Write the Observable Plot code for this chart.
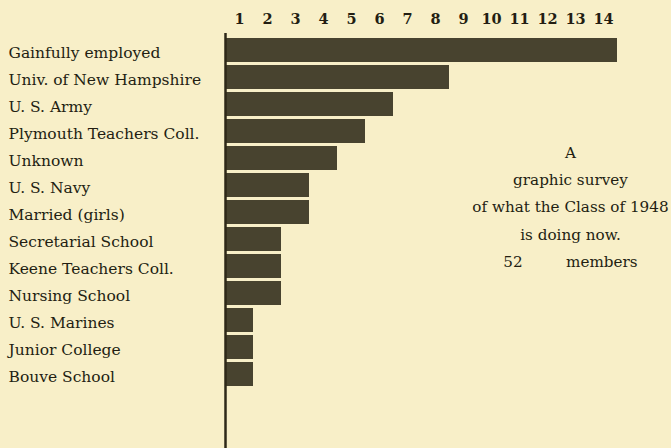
<!DOCTYPE html>
<html>
<head>
<meta charset="utf-8">
<script src="https://cdn.jsdelivr.net/npm/d3@7"></script>
<script src="https://cdn.jsdelivr.net/npm/@observablehq/plot@0.6"></script>
<style>
  html, body { margin: 0; padding: 0; background: #f8efc8; }
  #chart svg { display: block; }
</style>
</head>
<body>
<div id="chart"></div>
<script>
const categories = [
  "Gainfully employed",
  "Univ. of New Hampshire",
  "U. S. Army",
  "Plymouth Teachers Coll.",
  "Unknown",
  "U. S. Navy",
  "Married (girls)",
  "Secretarial School",
  "Keene Teachers Coll.",
  "Nursing School",
  "U. S. Marines",
  "Junior College",
  "Bouve School"
];
const counts = [14, 8, 6, 5, 4, 3, 3, 2, 2, 2, 1, 1, 1];
const tickLabels = [1, 2, 3, 4, 5, 6, 7, 8, 9, 10, 11, 12, 13, 14];
const annotationLines = [
  "A",
  "graphic survey",
  "of what the Class of 1948",
  "is doing now.",
  "52\u00a0\u00a0\u00a0\u00a0\u00a0\u00a0\u00a0\u00a0\u00a0members"
];

const data = categories.map((c, i) => ({category: c, count: counts[i]}));
const serif = "'DejaVu Serif', 'Liberation Serif', serif";
const ink = "#231e12";

const chart = Plot.plot({
  width: 671,
  height: 448,
  marginLeft: 225,
  marginRight: 54,
  marginTop: 33,
  marginBottom: 0,
  style: {background: "#f8efc8", fontFamily: serif, color: ink},
  x: {domain: [0, 14], axis: null, label: null},
  y: {domain: categories, range: [33, 392], paddingInner: 0.1, paddingOuter: 0.05, axis: null},
  marks: [
    Plot.barX(data, {x: "count", y: "category", fill: "#48432f"}),
    Plot.ruleX([0], {stroke: "#2e2818", strokeWidth: 2.5}),
    Plot.axisX({
      anchor: "top",
      label: null,
      ticks: tickLabels.map(d => d - 0.5),
      tickFormat: d => String(d + 0.5),
      tickSize: 0,
      tickPadding: 10,
      fontSize: 14.5,
      fontWeight: "bold",
      fill: ink
    }),
    Plot.text(data, {
      y: "category",
      text: "category",
      frameAnchor: "left",
      textAnchor: "start",
      dx: -217,
      dy: 3,
      fontSize: 15.5,
      fill: ink
    }),
    Plot.text([annotationLines.join("\n")], {
      x: 12.32,
      y: [categories[6]],
      text: d => d,
      dy: -9,
      lineHeight: 1.8,
      textAnchor: "middle",
      fontSize: 15.2,
      fill: ink
    })
  ]
});
document.getElementById("chart").appendChild(chart);
</script>
</body>
</html>
